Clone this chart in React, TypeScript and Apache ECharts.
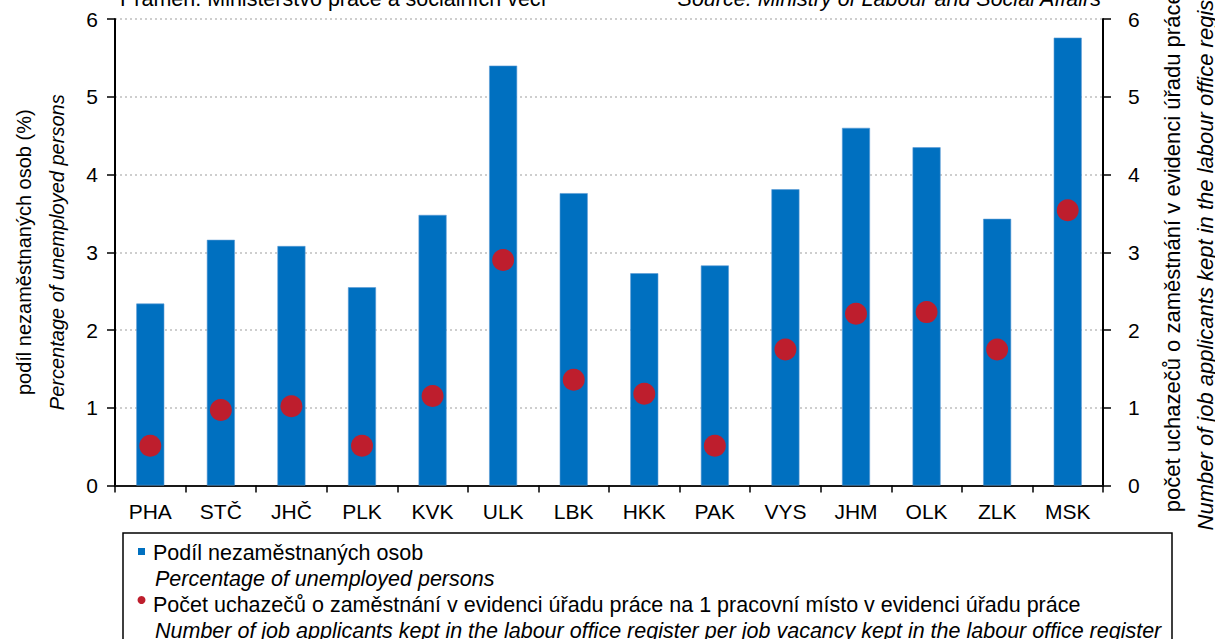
import React, { useEffect, useRef } from "react";
import * as echarts from "echarts";

const categories = ["PHA", "STČ", "JHČ", "PLK", "KVK", "ULK", "LBK", "HKK", "PAK", "VYS", "JHM", "OLK", "ZLK", "MSK"];
const unemployedShare = [2.34, 3.16, 3.08, 2.55, 3.48, 5.40, 3.76, 2.73, 2.83, 3.81, 4.60, 4.35, 3.43, 5.76];
const applicantsPerVacancy = [0.51, 0.97, 1.02, 0.51, 1.15, 2.90, 1.36, 1.18, 0.51, 1.75, 2.21, 2.23, 1.75, 3.54];
const yTicks = { min: 0, max: 6, interval: 1 };

const seriesNames = [
  "Podíl nezaměstnaných osob",
  "Počet uchazečů o zaměstnání v evidenci úřadu práce na 1 pracovní místo v evidenci úřadu práce",
];
const seriesNamesEn = [
  "Percentage of unemployed persons",
  "Number of job applicants kept in the labour office register per job vacancy kept in the labour office register",
];

const FONT = "Liberation Sans, Arial, sans-serif";
const BAR = "#0070C0";
const DOT = "#BE1E2D";

export default function App() {
  const ref = useRef<HTMLDivElement>(null);
  useEffect(() => {
    if (!ref.current) return;
    const chart = echarts.init(ref.current, undefined, { renderer: "svg" });
    const axisText = { fontFamily: FONT, fontSize: 21, color: "#000" };
    chart.setOption({
      animation: false,
      textStyle: { fontFamily: FONT },
      grid: { left: 115, right: 112, top: 19, bottom: 153.5, containLabel: false, outerBoundsMode: "none" },
      xAxis: [
        {
          type: "category",
          data: categories,
          axisLine: { lineStyle: { color: "#000", width: 2 } },
          axisTick: { show: true, length: 7, lineStyle: { color: "#000", width: 1.5 } },
          axisLabel: { ...axisText, margin: 15 },
        },
        {
          type: "category",
          data: categories,
          position: "top",
          axisLine: { show: true, lineStyle: { color: "#222", width: 1.5 } },
          axisTick: { show: false },
          axisLabel: { show: false },
        },
      ],
      yAxis: [
        {
          type: "value",
          ...yTicks,
          position: "left",
          axisLine: { show: true, lineStyle: { color: "#000", width: 2 } },
          axisTick: { show: true, length: 8, lineStyle: { color: "#000", width: 1.5 } },
          axisLabel: { ...axisText, margin: 17 },
          splitLine: { show: true, lineStyle: { color: "#BFBFBF", width: 1.5, type: [2, 3] } },
          name: "podíl nezaměstnaných osob (%)\n{i|Percentage of unemployed persons}",
          nameLocation: "middle",
          nameRotate: 90,
          nameGap: 42,
          nameTextStyle: {
            fontFamily: FONT,
            fontSize: 20,
            lineHeight: 33,
            color: "#000",
            rich: { i: { fontFamily: FONT, fontSize: 20, lineHeight: 33, fontStyle: "italic", color: "#000" } },
          },
        },
        {
          type: "value",
          ...yTicks,
          position: "right",
          axisLine: { show: true, lineStyle: { color: "#000", width: 2 } },
          axisTick: { show: true, length: 8, lineStyle: { color: "#000", width: 1.5 } },
          axisLabel: { ...axisText, margin: 25 },
          splitLine: { show: false },
          name: "počet uchazečů o zaměstnání v evidenci úřadu práce\n{i|Number of job applicants kept in the labour office register}",
          nameLocation: "middle",
          nameRotate: 90,
          nameGap: 53,
          nameTextStyle: {
            fontFamily: FONT,
            fontSize: 22,
            lineHeight: 33,
            color: "#000",
            rich: { i: { fontFamily: FONT, fontSize: 22, lineHeight: 33, fontStyle: "italic", color: "#000" } },
          },
        },
      ],
      series: [
        {
          name: seriesNames[0],
          type: "bar",
          data: unemployedShare,
          barWidth: 28,
          itemStyle: { color: BAR, borderColor: "#5B9BD5", borderWidth: 0.6 },
          xAxisIndex: 0,
          yAxisIndex: 0,
          z: 2,
        },
        {
          name: seriesNames[1],
          type: "scatter",
          data: applicantsPerVacancy,
          symbol: "circle",
          symbolSize: 22,
          itemStyle: { color: DOT, opacity: 1 },
          xAxisIndex: 0,
          yAxisIndex: 1,
          z: 3,
        },
      ],
      graphic: [
        {
          type: "text",
          x: 120,
          y: 10,
          style: { text: "Pramen: Ministerstvo práce a sociálních věcí", font: `21.5px ${FONT}`, fill: "#000", align: "left", verticalAlign: "bottom" },
        },
        {
          type: "text",
          x: 1101,
          y: 10,
          style: { text: "Source: Ministry of Labour and Social Affairs", font: `italic 21.5px ${FONT}`, fill: "#000", align: "right", verticalAlign: "bottom" },
        },
        {
          type: "rect",
          shape: { x: 123, y: 533, width: 1049, height: 120 },
          style: { fill: "#fff", stroke: "#000", lineWidth: 1.5 },
        },
        {
          type: "rect",
          shape: { x: 138, y: 548, width: 7, height: 7 },
          style: { fill: BAR },
        },
        {
          type: "circle",
          shape: { cx: 141.5, cy: 600, r: 4 },
          style: { fill: DOT },
        },
        {
          type: "text",
          x: 153,
          y: 553,
          style: { text: seriesNames[0], font: `21.5px ${FONT}`, fill: "#000", verticalAlign: "middle" },
        },
        {
          type: "text",
          x: 155,
          y: 579,
          style: { text: seriesNamesEn[0], font: `italic 21.5px ${FONT}`, fill: "#000", verticalAlign: "middle" },
        },
        {
          type: "text",
          x: 153,
          y: 605,
          style: { text: seriesNames[1], font: `21.5px ${FONT}`, fill: "#000", verticalAlign: "middle" },
        },
        {
          type: "text",
          x: 155,
          y: 631,
          style: { text: seriesNamesEn[1], font: `italic 21.5px ${FONT}`, fill: "#000", verticalAlign: "middle" },
        },
      ],
    });
    return () => chart.dispose();
  }, []);
  return <div ref={ref} style={{ width: 1215, height: 639, position: "absolute", left: 0, top: 0 }} />;
}
